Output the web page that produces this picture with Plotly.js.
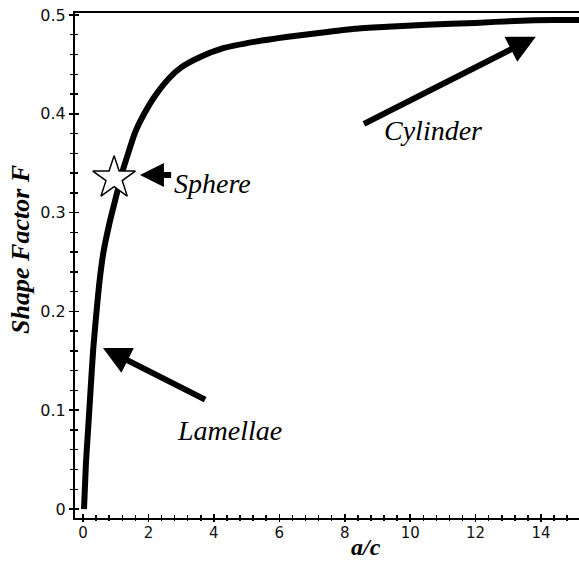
<!DOCTYPE html>
<html>
<head>
<meta charset="utf-8">
<script src="https://cdn.plot.ly/plotly-3.0.1.min.js"></script>
<style>html,body{margin:0;padding:0;background:#fff;overflow:hidden}#chart{width:579px;height:562px}</style>
</head>
<body>
<div id="chart"></div>
<script>
// Values
const acRatio = [0.03, 0.09, 0.16, 0.23, 0.31, 0.40, 0.50, 0.62, 0.82, 1.04, 1.19, 1.38, 1.59, 1.87, 2.2, 2.66, 3.0, 3.55, 4.24, 5.27, 6.27, 7.27, 8.3, 9.3, 10.5, 12.0, 13.2, 14.4, 15.2];
const shapeF  = [0.0, 0.047, 0.083, 0.12, 0.161, 0.195, 0.229, 0.259, 0.291, 0.320, 0.340, 0.360, 0.381, 0.400, 0.418, 0.437, 0.447, 0.457, 0.466, 0.473, 0.478, 0.482, 0.486, 0.488, 0.490, 0.492, 0.494, 0.495, 0.495];
const sphereAC = [0.95];
const sphereF = [0.335];
const xTickVals = [0, 2, 4, 6, 8, 10, 12, 14];
const yTickVals = [0, 0.1, 0.2, 0.3, 0.4, 0.5];
const yTickText = ['0', '0.1', '0.2', '0.3', '0.4', '0.5'];
const labelNames = ['Cylinder', 'Sphere', 'Lamellae'];
const labelAC = [10.7, 3.97, 4.49];
const labelF = [0.383, 0.329, 0.079];
const arrowTipAC = [13.84, 1.74, 0.61];
const arrowTipF = [0.478, 0.338, 0.163];
const arrowTailAC = [8.54, 2.74, 3.78];
const arrowTailF = [0.389, 0.338, 0.110];
const arrowScale = [0.93, 0.8, 0.92];

const xRange = [-0.245, 15.16];
const yRange = [-0.0091, 0.502];

const serif = 'Liberation Serif, Times New Roman, serif';
const sans = 'DejaVu Sans, Arial, sans-serif';

const traces = [
  {x: acRatio, y: shapeF, type: 'scatter', mode: 'lines',
   line: {color: '#000', width: 6, shape: 'spline', smoothing: 0.6}, hoverinfo: 'skip', showlegend: false},
  {x: sphereAC, y: sphereF, type: 'scatter', mode: 'markers',
   marker: {symbol: 'star', size: 32, color: '#fff', line: {color: '#000', width: 1.5}},
   showlegend: false},
  {x: [], y: [], xaxis: 'x2', yaxis: 'y2', type: 'scatter', mode: 'markers', showlegend: false}
];

const annotations = [];
for (let i = 0; i < labelNames.length; i++) {
  annotations.push({x: labelAC[i], y: labelF[i], xref: 'x', yref: 'y', text: '<i>' + labelNames[i] + '</i>',
    showarrow: false, font: {family: serif, size: 28, color: '#000'}, xanchor: 'center', yanchor: 'middle'});
  annotations.push({x: arrowTipAC[i], y: arrowTipF[i], xref: 'x', yref: 'y',
    ax: arrowTailAC[i], ay: arrowTailF[i], axref: 'x', ayref: 'y', text: '',
    showarrow: true, arrowhead: 2, arrowwidth: 6, arrowsize: arrowScale[i], arrowcolor: '#000', standoff: 0});
}
annotations.push({x: 8.65, y: -0.085, xref: 'x', yref: 'paper', text: '<b><i>a/c</i></b>',
  showarrow: false, font: {family: serif, size: 24, color: '#000'}, xanchor: 'center', yanchor: 'bottom', borderpad: 0});
annotations.push({x: -0.107, y: 0.531, xref: 'paper', yref: 'paper', text: '<b><i>Shape Factor F</i></b>',
  showarrow: false, textangle: -90, font: {family: serif, size: 26, color: '#000'}, xanchor: 'center', yanchor: 'middle'});

const layout = {
  width: 579, height: 562,
  margin: {l: 75, r: 0, t: 13, b: 44},
  paper_bgcolor: '#fff', plot_bgcolor: '#fff',
  showlegend: false,
  xaxis: {range: xRange, tickvals: xTickVals, ticks: 'inside', ticklen: 4, tickwidth: 1.5, tickcolor: '#000',
    showgrid: false, zeroline: false, showline: true, linecolor: '#000', linewidth: 2, mirror: true,
    tickfont: {family: sans, size: 15, color: '#111'},
    minor: {dtick: 0.4, ticks: 'inside', ticklen: 3, tickwidth: 1.5, tickcolor: '#000', showgrid: false}},
  yaxis: {range: yRange, tickvals: yTickVals, ticktext: yTickText, ticks: 'outside', ticklen: 4, tickwidth: 1.5, tickcolor: '#000',
    showgrid: false, zeroline: false, showline: true, linecolor: '#000', linewidth: 2,
    tickfont: {family: sans, size: 16, color: '#111'},
    minor: {dtick: 0.02, ticks: 'outside', ticklen: 3, tickwidth: 1.5, tickcolor: '#000', showgrid: false}},
  xaxis2: {range: xRange, overlaying: 'x', anchor: 'y2', tickvals: xTickVals, ticks: 'outside', ticklen: 3, tickwidth: 1.5, tickcolor: '#000',
    showticklabels: false, showgrid: false, zeroline: false, showline: false, side: 'bottom',
    minor: {dtick: 0.4, ticks: 'outside', ticklen: 2, tickwidth: 1.5, tickcolor: '#000', showgrid: false}},
  yaxis2: {range: yRange, overlaying: 'y', anchor: 'x2', tickvals: yTickVals, ticks: 'inside', ticklen: 4, tickwidth: 1.5, tickcolor: '#000',
    showticklabels: false, showgrid: false, zeroline: false, showline: false, side: 'left',
    minor: {dtick: 0.02, ticks: 'inside', ticklen: 3, tickwidth: 1.5, tickcolor: '#000', showgrid: false}},
  annotations: annotations
};

Plotly.newPlot('chart', traces, layout, {staticPlot: true, displayModeBar: false});
</script>
</body>
</html>
